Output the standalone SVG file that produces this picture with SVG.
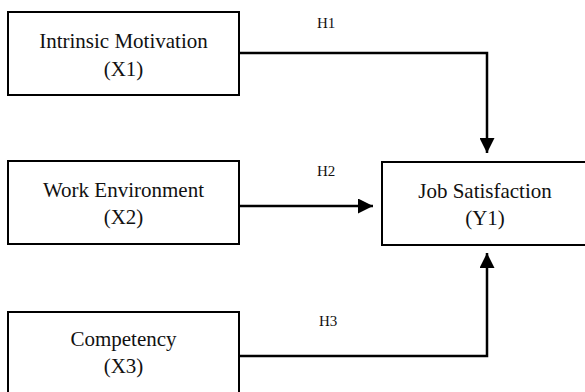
<svg xmlns="http://www.w3.org/2000/svg" width="585" height="392" viewBox="0 0 585 392">
<defs>
<style>
.box{fill:#fff;stroke:#000;stroke-width:2}
.t{font-family:"Liberation Serif","Times New Roman",serif;font-size:21px;fill:#111;text-anchor:middle}
.h{font-family:"Liberation Serif","Times New Roman",serif;font-size:15px;fill:#111}
.c{fill:none;stroke:#000;stroke-width:2.5}
</style>
<marker id="ah" viewBox="0 0 15 15" refX="15" refY="7.5" markerWidth="15" markerHeight="15" markerUnits="userSpaceOnUse" orient="auto">
<path d="M0,0 L15,7.5 L0,15 Z" fill="#000"/>
</marker>
</defs>
<rect width="585" height="392" fill="#fff"/>
<g id="connectors">
<polyline class="c" points="239,53 487,53 487,153" marker-end="url(#ah)"/>
<line class="c" x1="239" y1="206" x2="373" y2="206" marker-end="url(#ah)"/>
<polyline class="c" points="239,356 487,356 487,253" marker-end="url(#ah)"/>
<text class="h" x="317" y="28">H1</text>
<text class="h" x="317" y="176">H2</text>
<text class="h" x="319" y="326">H3</text>
</g>
<g id="x1">
<rect class="box" x="8" y="12" width="231" height="83"/>
<text class="t" x="123.5" y="48">Intrinsic Motivation</text>
<text class="t" x="123.5" y="76">(X1)</text>
</g>
<g id="x2">
<rect class="box" x="8" y="161" width="231" height="83"/>
<text class="t" x="123.5" y="197">Work Environment</text>
<text class="t" x="123.5" y="224">(X2)</text>
</g>
<g id="y1">
<rect class="box" x="382" y="162" width="206" height="83"/>
<text class="t" x="485" y="198">Job Satisfaction</text>
<text class="t" x="485" y="225">(Y1)</text>
</g>
<g id="x3">
<rect class="box" x="8" y="312" width="231" height="90"/>
<text class="t" x="123.5" y="346">Competency</text>
<text class="t" x="123.5" y="373">(X3)</text>
</g>
</svg>
